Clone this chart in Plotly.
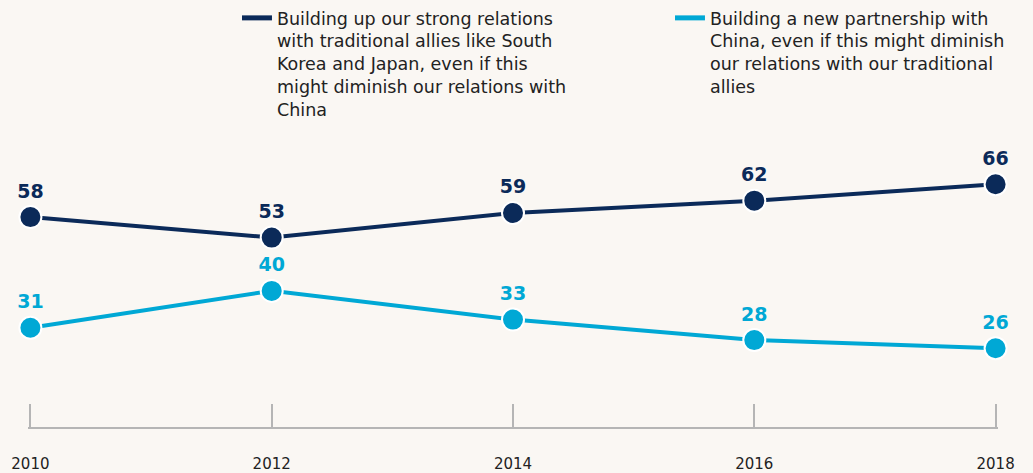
import plotly.graph_objects as go

years = [2010, 2012, 2014, 2016, 2018]
allies = [58, 53, 59, 62, 66]
china = [31, 40, 33, 28, 26]

allies_name = ("Building up our strong relations<br>with traditional allies like South<br>"
               "Korea and Japan, even if this<br>might diminish our relations with<br>China")
china_name = ("Building a new partnership with<br>China, even if this might diminish<br>"
              "our relations with our traditional<br>allies")

navy = '#0b2a59'
blue = '#00a8d5'
bg = '#faf7f3'
font_family = 'DejaVu Sans'

fig = go.Figure()

for vals, name, color in [(allies, allies_name, navy), (china, china_name, blue)]:
    fig.add_trace(go.Scatter(
        x=years, y=vals,
        mode='lines+markers+text',
        name=name,
        showlegend=False,
        line=dict(color=color, width=4),
        marker=dict(color=color, size=22, line=dict(color='#FFFFFF', width=2)),
        text=[str(v) for v in vals],
        textposition='top center',
        textfont=dict(color=color, size=19, family=font_family, weight='bold'),
        cliponaxis=False,
        hoverinfo='skip',
    ))
    # legend entry shows just the line
    fig.add_trace(go.Scatter(
        x=[None], y=[None],
        mode='lines',
        name=name,
        line=dict(color=color, width=5),
    ))

fig.update_layout(
    width=1033, height=473,
    margin=dict(l=27.6, r=34.6, t=140, b=46, autoexpand=False),
    paper_bgcolor=bg,
    plot_bgcolor=bg,
    font=dict(family=font_family, color='#222222'),
    showlegend=True,
    legend=dict(
        orientation='h',
        xref='container', yref='container',
        x=0.2294, y=1.0,
        xanchor='left', yanchor='top',
        valign='top',
        entrywidth=388,
        entrywidthmode='pixels',
        font=dict(size=17.5, color='#222222'),
        bgcolor='rgba(0,0,0,0)',
        traceorder='normal',
    ),
)

fig.update_xaxes(
    range=[2009.98, 2018.02],
    tickvals=years,
    ticktext=[str(y) for y in years],
    ticks='inside', ticklen=23, tickwidth=2, tickcolor='#b5b5b5',
    showline=True, linecolor='#b5b5b5', linewidth=2,
    showgrid=False, zeroline=False,
    tickfont=dict(size=15, color='#222222'),
    ticklabelstandoff=22,
    automargin=False,
    fixedrange=True,
)
fig.update_yaxes(
    range=[6.8, 76.8],
    visible=False,
    showgrid=False, zeroline=False,
    automargin=False,
    fixedrange=True,
)

fig.write_html(
    "out.html",
    config={'displayModeBar': False},
    post_script="document.body.style.margin='0';document.body.style.overflow='hidden';"
                "document.body.style.background='" + bg + "';",
)
